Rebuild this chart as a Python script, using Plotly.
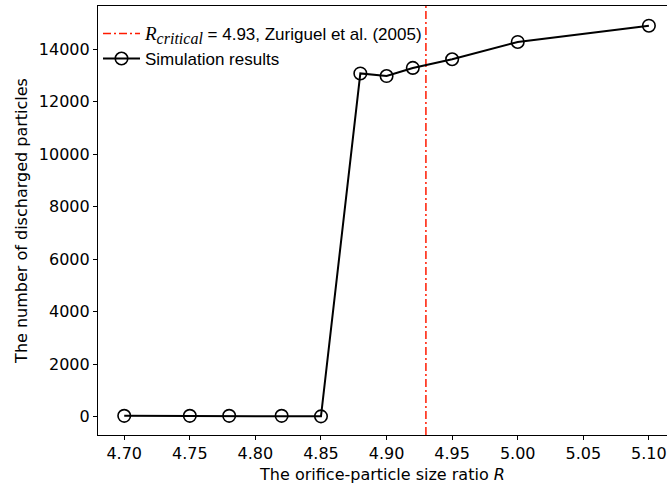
import plotly.graph_objects as go

# Orifice-to-particle size ratio and discharged particle counts
ratio = [4.70, 4.75, 4.78, 4.82, 4.85, 4.88, 4.90, 4.92, 4.95, 5.00, 5.10]
discharged = [30, 30, 30, 30, 10, 13080, 12980, 13290, 13620, 14280, 14900]

# Critical ratio reported by Zuriguel et al. (2005)
r_critical = 4.93

x_ticks = [4.70, 4.75, 4.80, 4.85, 4.90, 4.95, 5.00, 5.05, 5.10]
x_tick_text = ["4.70", "4.75", "4.80", "4.85", "4.90", "4.95", "5.00", "5.05", "5.10"]
y_ticks = [0, 2000, 4000, 6000, 8000, 10000, 12000, 14000]
y_tick_text = ["0", "2000", "4000", "6000", "8000", "10000", "12000", "14000"]

x_range = [4.68, 5.1138]
y_range = [-700, 15650]

fig = go.Figure()

serif_italic = "font-family:\"Liberation Serif\", serif; font-style:italic"
fig.add_trace(go.Scatter(
    x=[r_critical, r_critical],
    y=y_range,
    mode="lines",
    line=dict(color="#ff1a00", width=1.5, dash="8px,3px,2px,3px"),
    name=(f"<span style='{serif_italic}; font-size:19px'>R</span>"
          f"<sub><span style='{serif_italic}; font-size:16px'>critical</span></sub>"
          " = 4.93, Zuriguel et al. (2005)"),
))

fig.add_trace(go.Scatter(
    x=ratio,
    y=discharged,
    mode="lines+markers",
    line=dict(color="black", width=2),
    marker=dict(symbol="circle-open", size=12.5, color="black", line=dict(width=1.6)),
    name="Simulation results",
))

axis_font = dict(family="DejaVu Sans", size=16, color="black")

fig.update_layout(
    width=667,
    height=488,
    margin=dict(l=98, r=0, t=6, b=53),
    paper_bgcolor="white",
    plot_bgcolor="white",
    showlegend=True,
    legend=dict(
        x=0.0, y=0.977, xanchor="left", yanchor="top",
        bgcolor="rgba(255,255,255,0)",
        font=dict(family="Liberation Sans, Arial", size=17, color="black"),
        tracegroupgap=0, itemwidth=37,
    ),
    xaxis=dict(
        range=x_range,
        tickmode="array", tickvals=x_ticks, ticktext=x_tick_text,
        ticks="outside", ticklen=4, tickwidth=1.2, tickcolor="black",
        showline=True, linecolor="black", linewidth=1.2, mirror=True,
        showgrid=False, zeroline=False,
        tickfont=axis_font,
        ticklabeloverflow="allow",
        title=dict(text="The orifice-particle size ratio <i>R</i>",
                   font=dict(family="DejaVu Sans", size=16, color="black"), standoff=6),
    ),
    yaxis=dict(
        range=y_range,
        tickmode="array", tickvals=y_ticks, ticktext=y_tick_text,
        ticks="outside", ticklen=4, tickwidth=1.2, tickcolor="black",
        showline=True, linecolor="black", linewidth=1.2, mirror=False,
        showgrid=False, zeroline=False,
        tickfont=axis_font,
        title=dict(text="The number of discharged particles",
                   font=dict(family="DejaVu Sans", size=16, color="black"), standoff=7),
    ),
)

fig.write_html("out.html")
